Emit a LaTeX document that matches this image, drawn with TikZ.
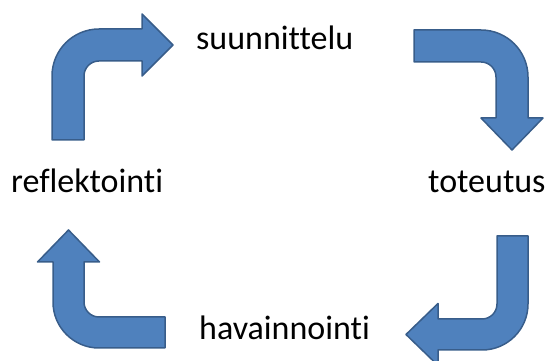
\documentclass[tikz,border=0pt]{standalone}
\usepackage{fontspec}
\setmainfont{Carlito}[Ligatures={NoCommon,NoRare,NoContextual},RawFeature={-liga;-clig;-dlig}]
\definecolor{arrowfill}{HTML}{4F81BD}
\definecolor{arrowline}{HTML}{385D8A}
\begin{document}
\begin{tikzpicture}[x=1pt,y=1pt,
  bentarrow/.style={fill=arrowfill,draw=arrowline,line width=1.5pt,line join=round},
  label/.style={anchor=base west,inner sep=0pt,font=\fontsize{34}{40}\selectfont,text=black}]
\useasboundingbox (0,0) rectangle (550,361);
\begin{scope}
\clip (0,0) rectangle (550,361);
% top left: up, then right
\draw[bentarrow] (52,221) -- (52,285) arc[start angle=180,end angle=90,radius=47]
  -- (142,332) -- (142,347) -- (173,316) -- (142,285) -- (142,300) -- (99,300)
  arc[start angle=90,end angle=180,radius=15] -- (84,221) -- cycle;
% top right: right, then down
\draw[bentarrow] (414,331) -- (481,331) arc[start angle=90,end angle=0,radius=47]
  -- (528,243) -- (543,243) -- (512,211) -- (481,243) -- (496,243) -- (496,284)
  arc[start angle=0,end angle=90,radius=15] -- (414,299) -- cycle;
% bottom right: down, then left
\draw[bentarrow] (497,125) -- (528,125) -- (528,57) arc[start angle=0,end angle=-90,radius=46]
  -- (438,11) -- (438,-4.5) -- (406,26.5) -- (438,57.5) -- (438,42) -- (482,42)
  arc[start angle=-90,end angle=0,radius=15] -- cycle;
% bottom left: left, then up
\draw[bentarrow] (165,13) -- (165,44) -- (99,44) arc[start angle=-90,end angle=-180,radius=15]
  -- (84,99) -- (99.5,99) -- (68.5,131) -- (37.5,99) -- (53,99) -- (53,59)
  arc[start angle=180,end angle=270,radius=46] -- cycle;
\end{scope}
\node[label] (plan) at (196,311) {suunnittelu};
\node[label] (act) at (428,168) {toteutus};
\node[label] (observe) at (199,21) {havainnointi};
\node[label] (reflect) at (11,168) {reflektointi};
\end{tikzpicture}
\end{document}
